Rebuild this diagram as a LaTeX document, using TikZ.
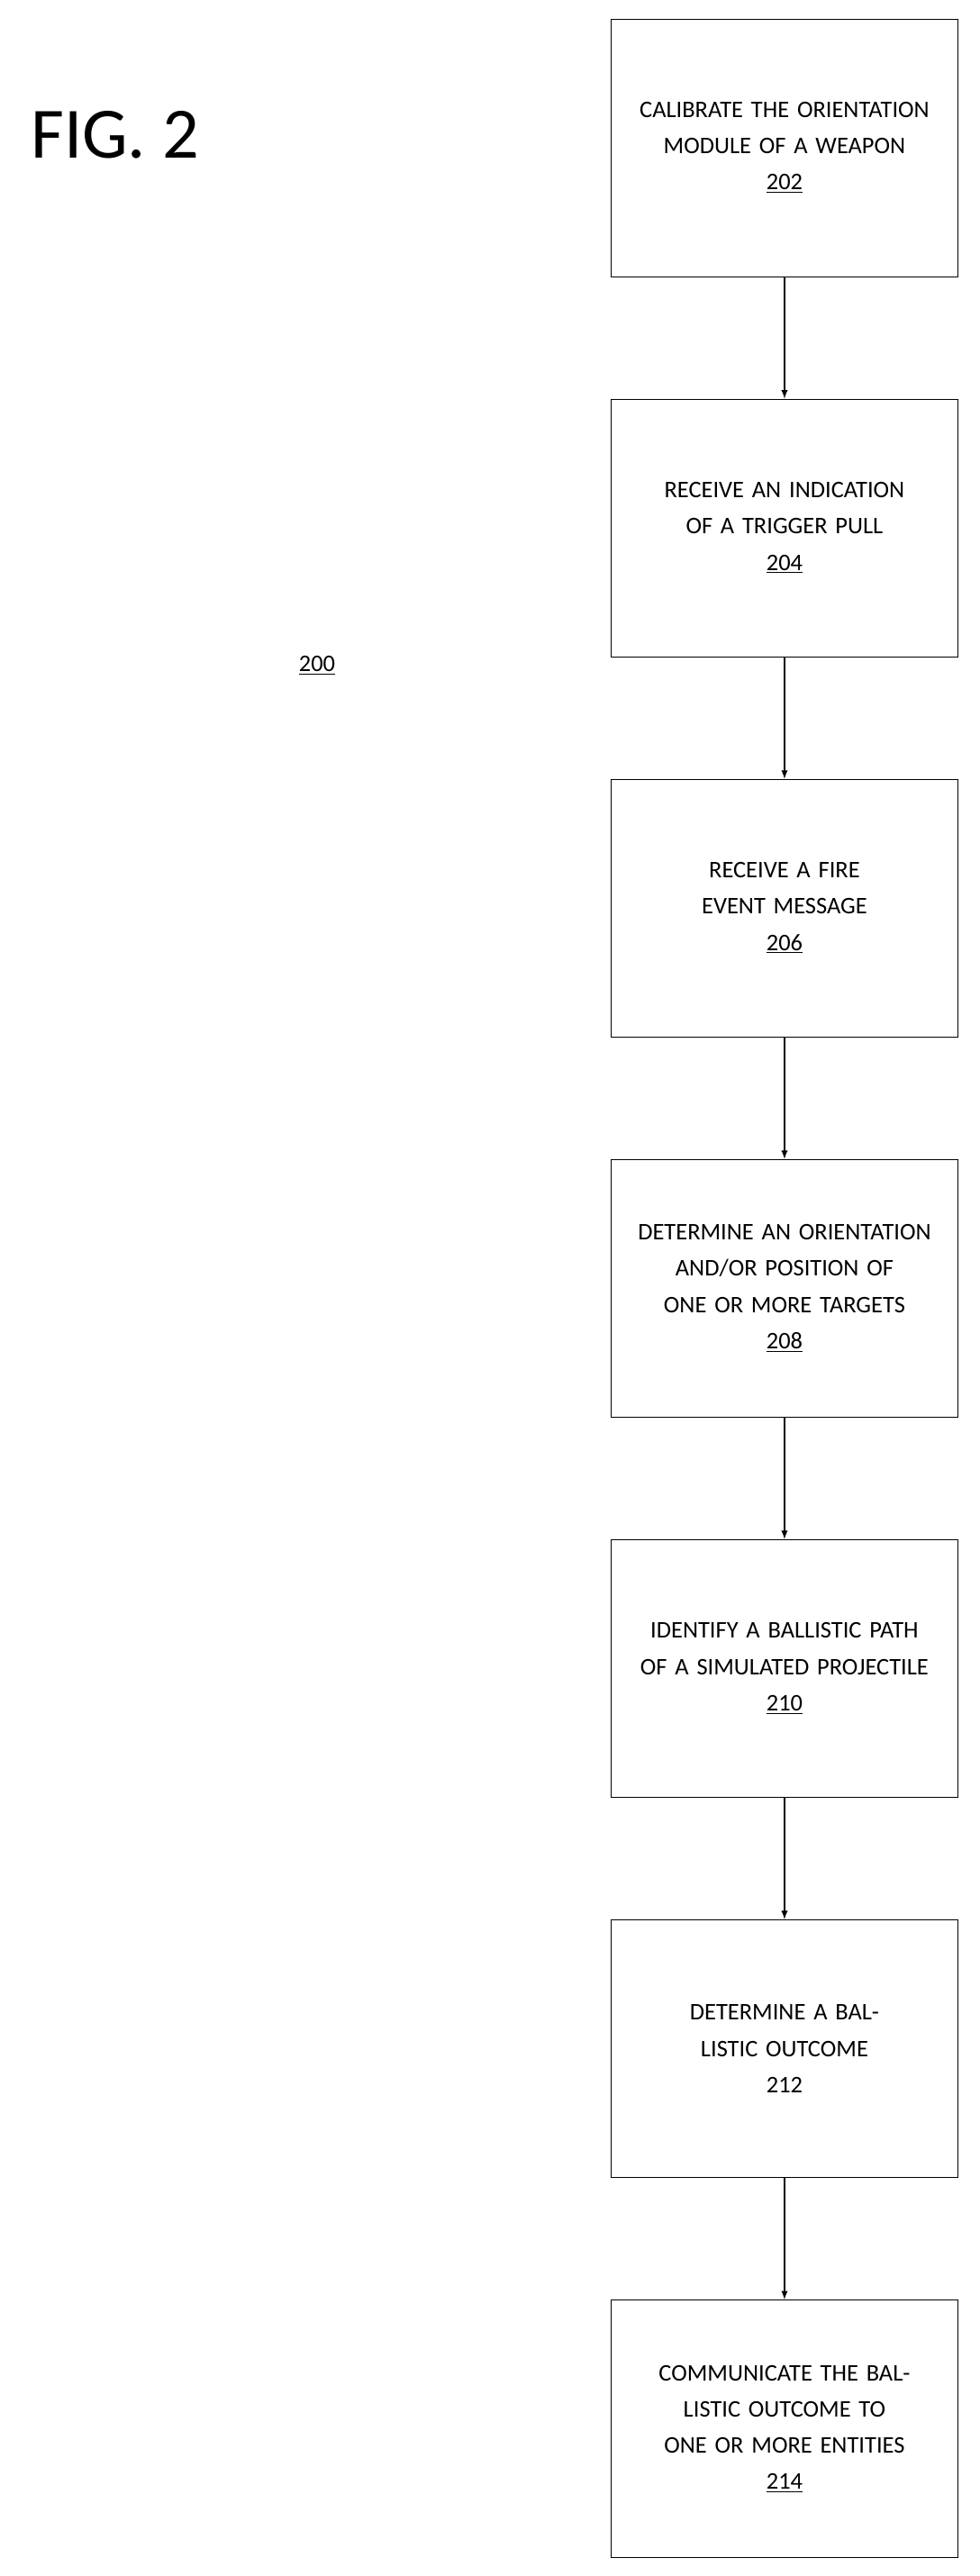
\documentclass[tikz,border=0pt]{standalone}
\usepackage{fontspec}
\setmainfont{Carlito}
\usetikzlibrary{positioning}

\begin{document}
\begin{tikzpicture}[x=1pt,y=-1pt,>=latex,
	stepbox/.style={draw,thin,minimum width=211pt,minimum height=157pt,text width=190pt,align=center,font=\fontsize{14.5}{22}\selectfont},
	flow/.style={->,thick}]
	\useasboundingbox (0,0) rectangle (596,1568);
	% Title and reference numeral
	\node[font=\fontsize{44}{50}\selectfont] (fig) at (70,82) {FIG. 2};
	\node[font=\fontsize{14.5}{18}\selectfont] (ref) at (193,405) {\underline{200}};
	% Steps
	\node[stepbox] (s202) at (477.5,90) {CALIBRATE THE ORIENTATION MODULE OF A WEAPON\\\underline{202}};
	\node[stepbox,below=74pt of s202] (s204) {RECEIVE AN INDICATION OF A TRIGGER PULL\\\underline{204}};
	\node[stepbox,below=74pt of s204] (s206) {RECEIVE A FIRE EVENT MESSAGE\\\underline{206}};
	\node[stepbox,below=74pt of s206] (s208) {DETERMINE AN ORIENTATION AND/OR POSITION OF ONE OR MORE TARGETS\\\underline{208}};
	\node[stepbox,below=74pt of s208] (s210) {IDENTIFY A BALLISTIC PATH OF A SIMULATED PROJECTILE\\\underline{210}};
	\node[stepbox,below=74pt of s210] (s212) {DETERMINE A BALLISTIC OUTCOME\\212};
	\node[stepbox,below=74pt of s212] (s214) {COMMUNICATE THE BALLISTIC OUTCOME TO ONE OR MORE ENTITIES\\\underline{214}};
	% Connectors
	\foreach \a/\b in {s202/s204,s204/s206,s206/s208,s208/s210,s210/s212,s212/s214}
		\draw[flow] (\a) -- (\b);
\end{tikzpicture}
\end{document}
